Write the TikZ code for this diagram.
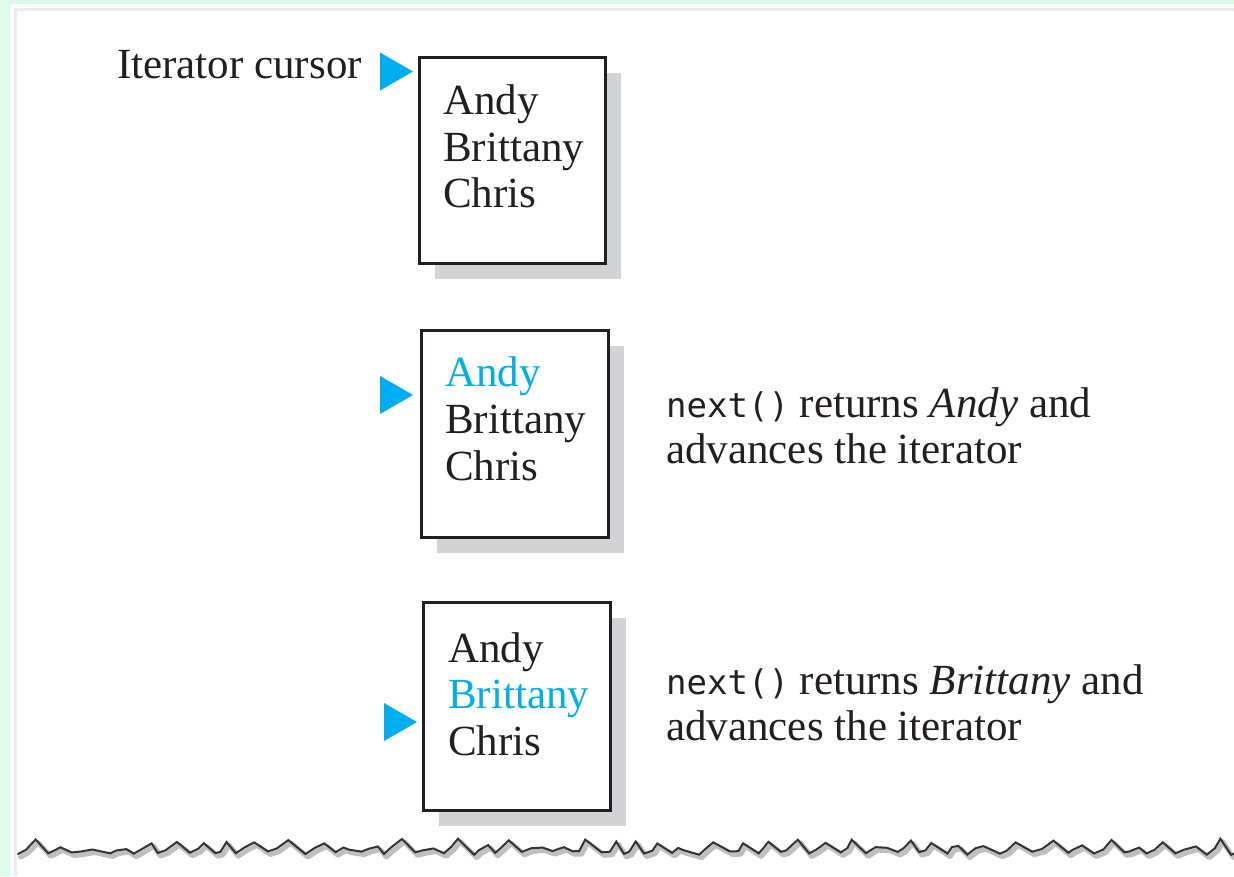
\documentclass[tikz,border=0pt]{standalone}
\usepackage{fontspec}
\setmainfont{Liberation Serif}
\setmonofont{DejaVu Sans Mono}

\definecolor{mint}{HTML}{DCFCEA}
\definecolor{cursorblue}{HTML}{00AEEF}
\definecolor{shadowgray}{HTML}{D1D3D5}
\definecolor{inkblack}{HTML}{231F20}

\newcommand\codetext[1]{{\fontsize{34}{40}\selectfont\ttfamily #1}}

\tikzset{
  listbox/.style={draw=inkblack, line width=3pt, fill=white, inner sep=0pt,
    minimum width=186pt, minimum height=206pt},
  boxshadow/.style={fill=shadowgray},
  entry/.style={anchor=base west, inner sep=0pt, text=inkblack,
    font=\fontsize{43}{46}\selectfont},
  hot/.style={text=cursorblue},
  note/.style={anchor=base west, inner sep=0pt, text=inkblack,
    font=\fontsize{43}{46}\selectfont},
  cursormark/.pic={\fill[cursorblue] (-33,-19) -- (-33,19) -- (0,0) -- cycle;}
}

% build a jagged saw-tooth path for the torn paper edge
\pgfmathsetseed{57}
\xdef\edgepath{(18,854)}
\xdef\edgex{18}
\foreach \i in {1,...,56}{%
  \pgfmathsetmacro\midx{\edgex + 4 + 6*rnd}%
  \pgfmathsetmacro\midy{854 - 2 - 5*rnd}%
  \pgfmathsetmacro\peakx{\midx + 4 + 9*rnd}%
  \pgfmathsetmacro\peaky{854 - 4 - 12*rnd}%
  \pgfmathsetmacro\lowx{\peakx + 6 + 12*rnd}%
  \pgfmathsetmacro\lowy{855 - 4*rnd}%
  \xdef\edgepath{\edgepath -- (\midx,\midy) -- (\peakx,\peaky) -- (\lowx,\lowy)}%
  \xdef\edgex{\lowx}%
}

\begin{document}
\begin{tikzpicture}[x=1pt,y=-1pt]
  % page background and paper panel
  \fill[mint] (0,0) rectangle (1234,876);
  \useasboundingbox (0,0) rectangle (1234,876);
  \fill[white] (10,4) rectangle (1234,876);
  \draw[black!7, line width=3pt] (15.5,876) -- (15.5,9.5) -- (1234,9.5);

  % torn lower edge of the panel: soft shadow, then the edge itself
  \begin{scope}
    \clip (16,800) rectangle (1234,876);
    \begin{scope}[shift={(2.5,3)}]
      \edef\tmp{\noexpand\draw[black!25, line width=5pt, line join=round, line cap=round] \edgepath;}\tmp
    \end{scope}
    \edef\tmp{\noexpand\draw[black!80, line width=2pt, line join=miter, line cap=round] \edgepath;}\tmp
  \end{scope}

  % shadows of the three list boxes
  \fill[boxshadow] (435,73) rectangle (621,279);
  \fill[boxshadow] (437,346) rectangle (624,553);
  \fill[boxshadow] (439,618) rectangle (626,826);

  % the three list boxes
  \node[listbox] (box1) at (512,160) {};
  \node[listbox, minimum width=187pt, minimum height=207pt] (box2) at (514.5,433.5) {};
  \node[listbox, minimum width=187pt, minimum height=208pt] (box3) at (516.5,706) {};

  % list contents
  \node[entry] (a1) at (443,114) {Andy};
  \node[entry] (b1) at (443,161) {Brittany};
  \node[entry] (c1) at (443,207) {Chris};

  \node[entry, hot] (a2) at (445,386) {Andy};
  \node[entry] (b2) at (445,433) {Brittany};
  \node[entry] (c2) at (445,480) {Chris};

  \node[entry] (a3) at (448,662) {Andy};
  \node[entry, hot] (b3) at (448,708) {Brittany};
  \node[entry] (c3) at (448,755) {Chris};

  % iterator cursor marks
  \pic at (413,71.5) {cursormark};
  \pic at (413,395) {cursormark};
  \pic at (417,722) {cursormark};

  \node[note, anchor=base east] (lbl) at (362,78) {Iterator cursor};

  % explanations
  \node[note] (n1) at (666,417) {\codetext{next()} returns \textit{Andy} and};
  \node[note] (n1b) at (666,463) {advances the iterator};
  \node[note] (n2) at (666,694) {\codetext{next()} returns \textit{Brittany} and};
  \node[note] (n2b) at (666,740) {advances the iterator};
\end{tikzpicture}
\end{document}
